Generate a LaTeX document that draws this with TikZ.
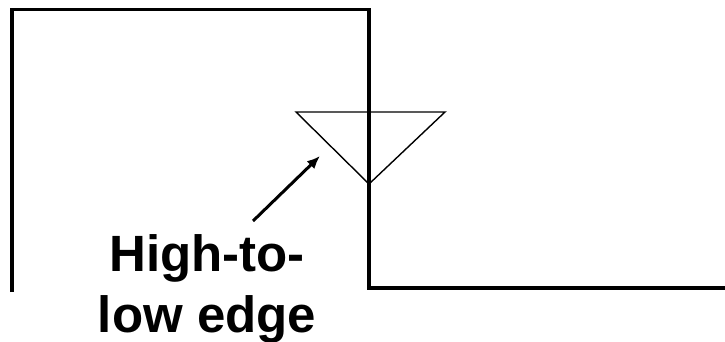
\documentclass[tikz,border=0pt]{standalone}
\usepackage{fontspec}
\setmainfont{Liberation Sans}
\usepackage{tikz}
\usetikzlibrary{arrows.meta, positioning, calc}
\tikzset{
  wavesig/.style={
    draw, line width=3.6pt, line join=miter, color=black
  },
  edgemark/.style={
    draw, line width=1.4pt, line join=miter, color=black
  },
  notearrow/.style={
    -{Latex[length=13pt, width=11pt]}, line width=3pt, color=black
  },
  notelabel/.style={
    align=center, inner sep=0pt,
    font=\fontsize{51}{61}\selectfont\bfseries
  },
}

\begin{document}
\begin{tikzpicture}[x=1pt, y=-1pt]
  \useasboundingbox (0,0) rectangle (725,342);

  % ── Signal waveform ──
  \coordinate (lowstart) at (12,292);
  \coordinate (risetop)  at (12,9.5);
  \coordinate (falltop)  at (369,9.5);
  \coordinate (fallbot)  at (369,288);
  \coordinate (lowend)   at (725,288);
  \draw[wavesig] (lowstart) -- (risetop) -- (falltop) -- (fallbot) -- (lowend);

  % ── Falling-edge marker ──
  \coordinate (markleft)  at (296,112);
  \coordinate (markright) at (445,112);
  \coordinate (markapex)  at (369,184);
  \draw[edgemark] (markleft) -- (markright) -- (markapex) -- cycle;

  % ── Label and pointer ──
  \node[notelabel, anchor=north] (edgelabel) at (207,234) {High-to-\\low edge};

  \coordinate (pointtail) at (253,221);
  \coordinate (pointtip)  at (320,156);
  \draw[notearrow] (pointtail) -- (pointtip);
\end{tikzpicture}
\end{document}
